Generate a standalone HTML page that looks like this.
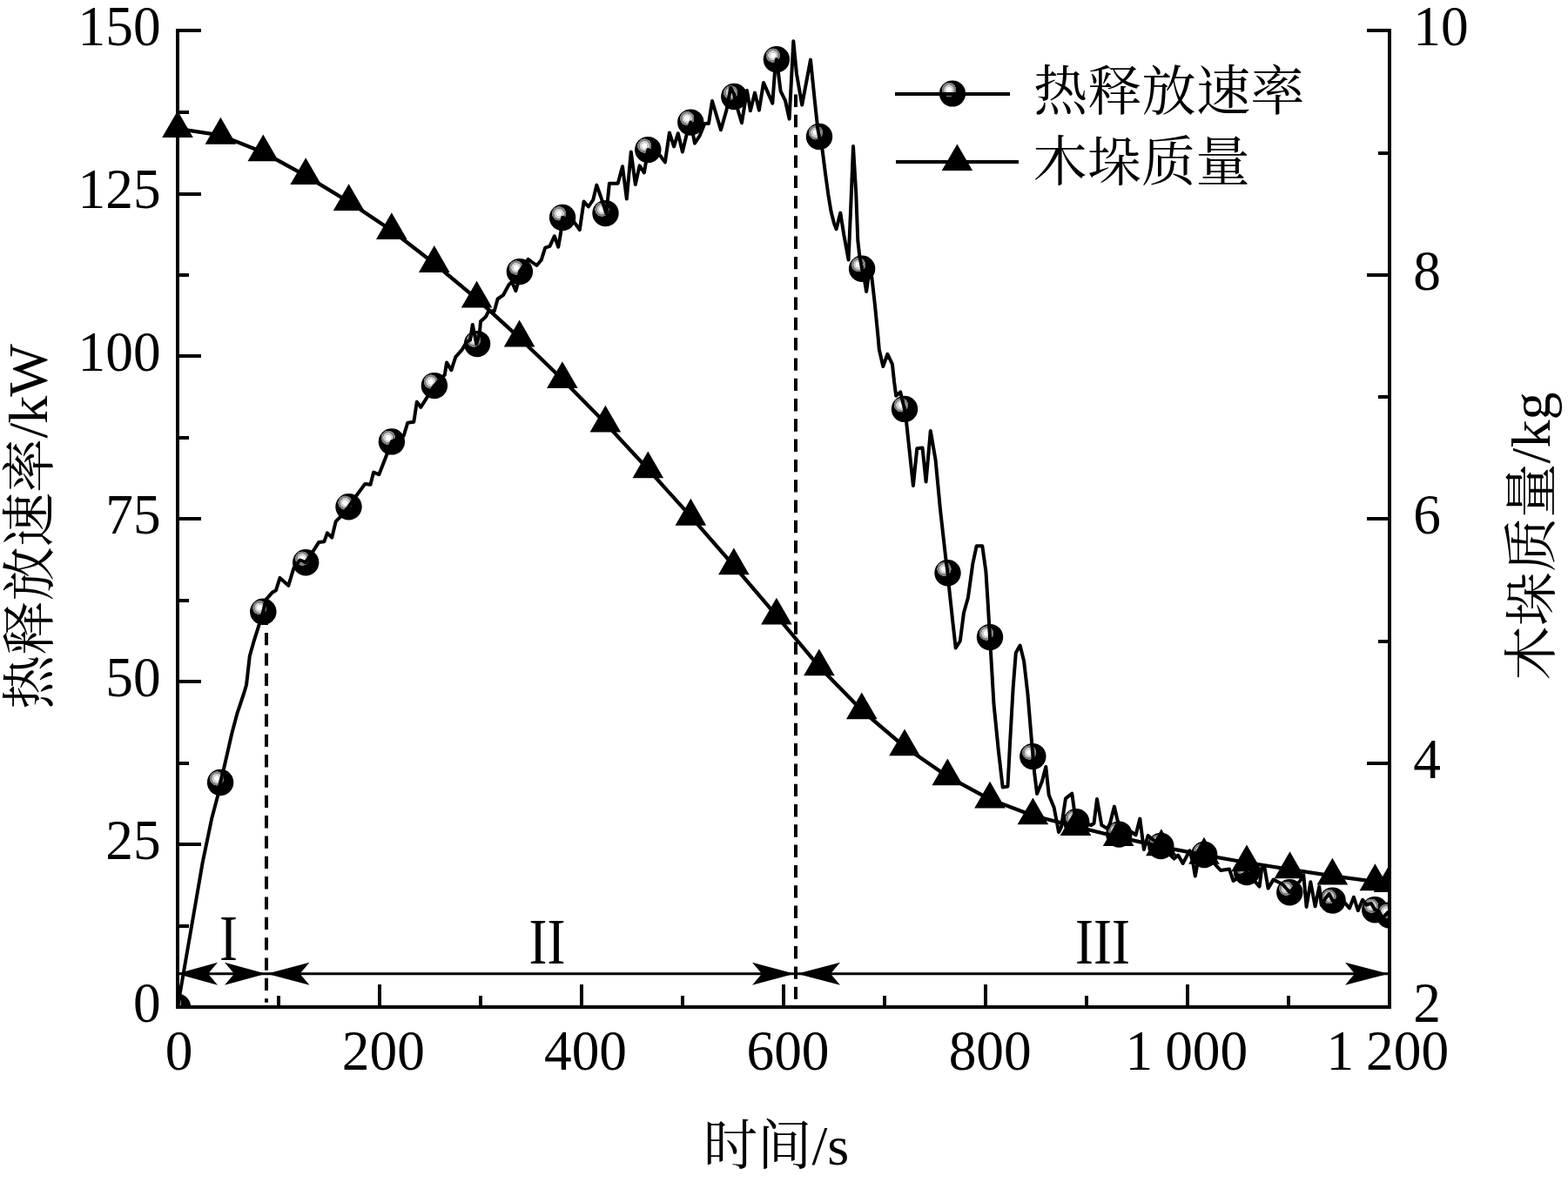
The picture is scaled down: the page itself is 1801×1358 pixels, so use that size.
<!DOCTYPE html>
<html lang="zh-CN"><head><meta charset="utf-8">
<style>
html,body{margin:0;padding:0;background:#fff;}
body{width:1801px;height:1358px;overflow:hidden;}
svg{display:block;}
text{font-family:"Liberation Serif","Noto Serif CJK SC",serif;fill:#000;}
.tk{font-size:65px;word-spacing:-2px;}
.cj{font-size:62.3px;}
.rn{font-size:73.1px;}
.la{font-size:64.2px;}
.sq{letter-spacing:-1px;}
</style></head><body>
<svg width="1801" height="1358" viewBox="0 0 1801 1358">
<defs>
<radialGradient id="bg" gradientUnits="objectBoundingBox" cx="0.367" cy="0.350" r="0.275" fx="0.367" fy="0.350">
<stop offset="0" stop-color="#fff"/><stop offset="0.37" stop-color="#fff"/>
<stop offset="0.39" stop-color="#cdcdcd"/><stop offset="0.66" stop-color="#cdcdcd"/>
<stop offset="0.68" stop-color="#808080"/><stop offset="0.96" stop-color="#808080"/>
<stop offset="0.99" stop-color="#000"/><stop offset="1" stop-color="#000"/>
</radialGradient>
<clipPath id="cl"><rect x="204.0" y="0" width="1392.0" height="1157.0"/></clipPath>
<clipPath id="cr"><rect x="0" y="0" width="1596.0" height="1358"/></clipPath>
</defs>
<rect x="0" y="0" width="1801" height="1358" fill="#fff"/>
<g stroke="#000" stroke-width="4" fill="none">
<line x1="306" y1="703.7" x2="306" y2="1151.8" stroke-dasharray="14.3 9.04"/>
<line x1="914" y1="108.5" x2="914" y2="1151.8" stroke-dasharray="14.4 8.9"/>
</g>
<g clip-path="url(#cl)">
<circle cx="204.0" cy="1157.0" r="15.2" fill="url(#bg)"/>
<circle cx="253.1" cy="899.0" r="15.2" fill="url(#bg)"/>
<circle cx="302.3" cy="702.7" r="15.2" fill="url(#bg)"/>
<circle cx="351.2" cy="646.2" r="15.2" fill="url(#bg)"/>
<circle cx="400.5" cy="582.2" r="15.2" fill="url(#bg)"/>
<circle cx="449.9" cy="507.4" r="15.2" fill="url(#bg)"/>
<circle cx="498.9" cy="443.1" r="15.2" fill="url(#bg)"/>
<circle cx="548.1" cy="395.1" r="15.2" fill="url(#bg)"/>
<circle cx="596.9" cy="312.1" r="15.2" fill="url(#bg)"/>
<circle cx="646.1" cy="249.9" r="15.2" fill="url(#bg)"/>
<circle cx="695.5" cy="245.1" r="15.2" fill="url(#bg)"/>
<circle cx="744.3" cy="172.1" r="15.2" fill="url(#bg)"/>
<circle cx="793.3" cy="140.6" r="15.2" fill="url(#bg)"/>
<circle cx="843.3" cy="111.0" r="15.2" fill="url(#bg)"/>
<circle cx="891.9" cy="68.2" r="15.2" fill="url(#bg)"/>
<circle cx="941.0" cy="156.9" r="15.2" fill="url(#bg)"/>
<circle cx="990.1" cy="308.7" r="15.2" fill="url(#bg)"/>
<circle cx="1039.0" cy="469.9" r="15.2" fill="url(#bg)"/>
<circle cx="1088.5" cy="658.3" r="15.2" fill="url(#bg)"/>
<circle cx="1137.0" cy="732.1" r="15.2" fill="url(#bg)"/>
<circle cx="1186.3" cy="869.1" r="15.2" fill="url(#bg)"/>
<circle cx="1236.2" cy="944.2" r="15.2" fill="url(#bg)"/>
<circle cx="1285.3" cy="958.6" r="15.2" fill="url(#bg)"/>
<circle cx="1333.3" cy="972.0" r="15.2" fill="url(#bg)"/>
<circle cx="1383.2" cy="982.0" r="15.2" fill="url(#bg)"/>
<circle cx="1432.0" cy="1002.0" r="15.2" fill="url(#bg)"/>
<circle cx="1481.3" cy="1025.3" r="15.2" fill="url(#bg)"/>
<circle cx="1530.6" cy="1034.6" r="15.2" fill="url(#bg)"/>
<circle cx="1579.2" cy="1045.3" r="15.2" fill="url(#bg)"/>
<circle cx="1596.0" cy="1051.5" r="15.2" fill="url(#bg)"/>
<polyline points="204.0,1157.0 227.7,1020.0 232.6,991.4 243.3,939.9 250.4,913.3 253.1,899.0 257.5,881.3 266.4,842.2 272.6,819.1 280.0,797.0 283.0,787.0 284.5,774.0 286.8,753.7 291.3,737.7 297.5,718.1 302.3,702.7 305.5,688.8 312.6,680.8 317.0,678.2 321.5,663.9 331.3,672.8 337.5,652.4 344.6,643.5 351.2,646.2 359.9,632.9 366.1,623.1 372.4,622.2 375.9,612.4 381.2,617.7 385.7,599.1 390.1,594.6 400.5,582.2 409.5,569.2 419.3,555.9 425.5,556.8 429.1,542.6 435.3,545.2 443.3,524.8 449.9,507.4 463.7,500.8 468.2,485.7 475.3,484.8 478.8,461.7 483.3,467.9 489.5,458.2 498.9,443.1 510.8,430.6 513.1,416.4 518.3,425.3 523.3,410.2 530.4,402.2 535.7,393.3 540.1,390.6 542.8,372.9 547.2,395.1 550.8,383.5 552.0,369.3 557.9,364.0 561.5,356.9 567.7,357.8 571.6,343.5 578.2,338.8 584.4,327.2 588.0,323.7 592.4,334.3 595.0,325.0 596.9,312.1 606.6,297.9 616.4,305.0 621.7,298.8 626.2,284.6 631.5,282.8 636.8,271.3 641.3,283.7 644.8,263.3 646.1,249.9 659.0,254.4 665.8,264.2 670.6,231.6 675.9,237.5 681.3,229.5 685.3,212.6 690.1,226.0 696.4,245.5 699.9,210.8 709.7,210.8 715.0,191.3 719.8,228.6 724.8,174.4 729.8,212.1 734.6,190.4 739.9,198.4 744.3,172.1 757.7,178.0 763.9,186.4 768.9,152.4 774.1,168.4 778.8,153.2 783.9,174.5 788.7,154.4 793.3,140.6 798.0,164.6 804.0,155.3 809.3,141.9 814.0,141.9 818.0,116.0 828.0,149.3 834.6,126.0 839.3,100.6 843.0,108.0 846.6,123.3 852.0,141.3 858.0,104.0 861.9,127.3 867.0,106.6 871.9,126.6 877.0,94.9 887.3,118.6 889.9,83.3 891.9,68.2 893.9,83.3 896.6,104.6 901.9,115.3 906.6,136.6 911.3,47.3 915.0,85.0 921.2,120.6 931.0,68.6 935.9,116.6 939.2,147.3 941.0,156.9 944.6,172.6 948.0,199.3 951.3,223.3 954.6,243.3 958.0,256.6 960.6,263.3 965.3,244.6 969.3,269.9 974.6,298.6 977.0,243.0 980.0,168.0 983.3,223.0 985.3,276.6 987.3,293.9 990.1,308.7 993.0,322.0 995.1,334.9 997.5,318.0 1001.3,318.0 1004.9,350.0 1008.4,385.5 1009.8,401.5 1014.3,421.0 1019.4,406.8 1024.9,418.4 1027.1,438.8 1029.2,454.8 1034.2,450.4 1039.0,469.9 1041.2,486.0 1048.9,558.0 1053.3,515.3 1059.5,514.4 1063.6,553.5 1068.8,494.9 1074.6,528.6 1080.0,585.5 1086.2,640.6 1088.5,658.3 1090.6,679.7 1094.6,716.7 1097.7,744.5 1102.8,736.5 1107.0,704.0 1111.9,686.8 1117.3,647.7 1121.7,627.2 1128.3,627.2 1132.4,656.6 1134.4,688.0 1137.0,732.1 1138.4,756.0 1141.5,809.0 1146.8,862.0 1151.7,904.5 1157.5,903.5 1160.1,853.0 1163.6,791.0 1166.8,750.0 1171.6,741.6 1176.1,759.5 1180.5,798.0 1185.0,852.0 1186.5,869.1 1188.1,887.5 1191.1,912.0 1196.8,897.9 1201.3,881.0 1204.7,913.3 1210.7,928.0 1216.0,956.0 1219.0,950.0 1224.0,917.3 1231.3,911.7 1234.6,936.0 1236.2,944.2 1253.3,948.0 1256.5,946.0 1260.0,918.0 1265.3,948.0 1272.0,952.0 1275.0,946.0 1279.9,926.6 1283.9,944.0 1285.3,958.6 1299.9,956.0 1304.6,959.3 1309.3,940.6 1313.9,976.0 1318.6,960.0 1333.3,972.0 1348.6,986.6 1353.2,982.6 1358.6,992.0 1366.6,977.3 1370.6,993.3 1372.8,1006.6 1375.2,993.3 1383.2,982.0 1396.0,993.3 1402.0,1000.0 1412.0,998.6 1416.6,1012.0 1432.0,1002.0 1446.6,1018.6 1449.3,997.3 1452.6,997.3 1456.6,1020.6 1462.6,1010.6 1468.0,1013.3 1473.3,1016.0 1481.3,1025.3 1493.3,1012.0 1497.3,1005.3 1500.6,1041.9 1505.3,1013.3 1510.6,1041.3 1515.3,1018.6 1517.9,1039.9 1522.5,1032.0 1526.6,1027.0 1530.6,1034.6 1545.2,1037.8 1550.0,1043.5 1554.9,1030.7 1559.8,1046.2 1565.1,1033.8 1569.5,1039.5 1574.8,1037.8 1579.2,1045.3 1583.6,1046.6 1588.0,1055.0 1593.8,1048.4 1596.0,1051.5" fill="none" stroke="#000" stroke-width="4" stroke-linejoin="round" stroke-linecap="round"/>
</g>
<g clip-path="url(#cr)">
<polyline points="204.0,147.8 253.4,155.4 302.3,175.0 351.2,201.8 400.6,231.8 449.8,264.8 498.8,302.7 547.6,343.3 596.6,388.2 645.9,435.8 695.4,486.3 744.3,539.0 793.4,593.4 842.9,650.0 891.9,707.3 940.9,766.0 989.8,816.0 1039.0,858.0 1088.3,892.0 1137.0,918.3 1186.4,937.0 1235.5,949.6 1284.6,961.7 1333.9,972.9 1383.0,982.4 1432.0,991.0 1481.5,998.9 1530.4,1006.3 1579.4,1012.9 1595.5,1014.7" fill="none" stroke="#000" stroke-width="4.3" stroke-linejoin="round"/>
<polygon points="204.0,127.2 221.8,158.1 186.2,158.1" fill="#000"/>
<polygon points="253.4,134.8 271.2,165.7 235.6,165.7" fill="#000"/>
<polygon points="302.3,154.4 320.1,185.3 284.5,185.3" fill="#000"/>
<polygon points="351.2,181.2 369.0,212.1 333.4,212.1" fill="#000"/>
<polygon points="400.6,211.2 418.4,242.1 382.8,242.1" fill="#000"/>
<polygon points="449.8,244.2 467.6,275.1 432.0,275.1" fill="#000"/>
<polygon points="498.8,282.1 516.6,313.0 481.0,313.0" fill="#000"/>
<polygon points="547.6,322.7 565.4,353.6 529.8,353.6" fill="#000"/>
<polygon points="596.6,367.6 614.4,398.5 578.8,398.5" fill="#000"/>
<polygon points="645.9,415.2 663.7,446.1 628.1,446.1" fill="#000"/>
<polygon points="695.4,465.7 713.2,496.6 677.6,496.6" fill="#000"/>
<polygon points="744.3,518.4 762.1,549.3 726.5,549.3" fill="#000"/>
<polygon points="793.4,572.8 811.2,603.7 775.6,603.7" fill="#000"/>
<polygon points="842.9,629.4 860.7,660.3 825.1,660.3" fill="#000"/>
<polygon points="891.9,686.7 909.7,717.6 874.1,717.6" fill="#000"/>
<polygon points="940.9,745.4 958.7,776.3 923.1,776.3" fill="#000"/>
<polygon points="989.8,795.4 1007.6,826.3 972.0,826.3" fill="#000"/>
<polygon points="1039.0,837.4 1056.8,868.3 1021.2,868.3" fill="#000"/>
<polygon points="1088.3,871.4 1106.1,902.3 1070.5,902.3" fill="#000"/>
<polygon points="1137.0,897.7 1154.8,928.6 1119.2,928.6" fill="#000"/>
<polygon points="1186.4,916.4 1204.2,947.3 1168.6,947.3" fill="#000"/>
<polygon points="1235.5,929.0 1253.3,959.9 1217.7,959.9" fill="#000"/>
<polygon points="1284.6,941.1 1302.4,972.0 1266.8,972.0" fill="#000"/>
<polygon points="1333.9,952.3 1351.7,983.2 1316.1,983.2" fill="#000"/>
<polygon points="1383.0,961.8 1400.8,992.7 1365.2,992.7" fill="#000"/>
<polygon points="1432.0,970.4 1449.8,1001.3 1414.2,1001.3" fill="#000"/>
<polygon points="1481.5,978.3 1499.3,1009.2 1463.7,1009.2" fill="#000"/>
<polygon points="1530.4,985.7 1548.2,1016.6 1512.6,1016.6" fill="#000"/>
<polygon points="1579.4,992.3 1597.2,1023.2 1561.6,1023.2" fill="#000"/>
<polygon points="1595.5,994.1 1613.3,1025.0 1577.7,1025.0" fill="#000"/>
</g>
<g stroke="#000" stroke-width="4" fill="none" stroke-linecap="butt">
<polyline points="204.0,33.0 204.0,1157.0 1596.0,1157.0 1596.0,33.0" stroke-linejoin="miter"/>
<line x1="204.0" y1="1157.0" x2="231.0" y2="1157.0"/>
<line x1="204.0" y1="1064.0" x2="217.0" y2="1064.0"/>
<line x1="204.0" y1="970.0" x2="231.0" y2="970.0"/>
<line x1="204.0" y1="877.0" x2="217.0" y2="877.0"/>
<line x1="204.0" y1="783.0" x2="231.0" y2="783.0"/>
<line x1="204.0" y1="690.0" x2="217.0" y2="690.0"/>
<line x1="204.0" y1="596.0" x2="231.0" y2="596.0"/>
<line x1="204.0" y1="503.0" x2="217.0" y2="503.0"/>
<line x1="204.0" y1="409.0" x2="231.0" y2="409.0"/>
<line x1="204.0" y1="316.0" x2="217.0" y2="316.0"/>
<line x1="204.0" y1="223.0" x2="231.0" y2="223.0"/>
<line x1="204.0" y1="129.0" x2="217.0" y2="129.0"/>
<line x1="204.0" y1="35.0" x2="231.0" y2="35.0"/>
<line x1="1596.0" y1="1157.0" x2="1570.0" y2="1157.0"/>
<line x1="1596.0" y1="1017.0" x2="1583.0" y2="1017.0"/>
<line x1="1596.0" y1="877.0" x2="1570.0" y2="877.0"/>
<line x1="1596.0" y1="737.0" x2="1583.0" y2="737.0"/>
<line x1="1596.0" y1="596.0" x2="1570.0" y2="596.0"/>
<line x1="1596.0" y1="456.0" x2="1583.0" y2="456.0"/>
<line x1="1596.0" y1="316.0" x2="1570.0" y2="316.0"/>
<line x1="1596.0" y1="176.0" x2="1583.0" y2="176.0"/>
<line x1="1596.0" y1="35.0" x2="1570.0" y2="35.0"/>
<line x1="204.0" y1="1157.0" x2="204.0" y2="1131.0"/>
<line x1="320.0" y1="1157.0" x2="320.0" y2="1144.0"/>
<line x1="436.0" y1="1157.0" x2="436.0" y2="1131.0"/>
<line x1="552.0" y1="1157.0" x2="552.0" y2="1144.0"/>
<line x1="668.0" y1="1157.0" x2="668.0" y2="1131.0"/>
<line x1="784.0" y1="1157.0" x2="784.0" y2="1144.0"/>
<line x1="900.0" y1="1157.0" x2="900.0" y2="1131.0"/>
<line x1="1016.0" y1="1157.0" x2="1016.0" y2="1144.0"/>
<line x1="1132.0" y1="1157.0" x2="1132.0" y2="1131.0"/>
<line x1="1248.0" y1="1157.0" x2="1248.0" y2="1144.0"/>
<line x1="1364.0" y1="1157.0" x2="1364.0" y2="1131.0"/>
<line x1="1480.0" y1="1157.0" x2="1480.0" y2="1144.0"/>
<line x1="1596.0" y1="1157.0" x2="1596.0" y2="1131.0"/>
</g>
<line x1="204" y1="1118.7" x2="1596" y2="1118.7" stroke="#000" stroke-width="3"/>
<polygon points="203.0,1118.7 250.0,1105.7 239.0,1118.7 250.0,1131.7" fill="#000"/>
<polygon points="305.5,1118.7 258.0,1105.7 269.0,1118.7 258.0,1131.7" fill="#000"/>
<polygon points="306.5,1118.7 355.5,1105.7 344.5,1118.7 355.5,1131.7" fill="#000"/>
<polygon points="912.5,1118.7 864.0,1105.7 875.0,1118.7 864.0,1131.7" fill="#000"/>
<polygon points="915.5,1118.7 965.0,1105.7 954.0,1118.7 965.0,1131.7" fill="#000"/>
<polygon points="1595.0,1118.7 1545.0,1105.7 1556.0,1118.7 1545.0,1131.7" fill="#000"/>
<text class="tk" transform="translate(184.6,1174.3) scale(0.975,1)" text-anchor="end">0</text>
<text class="tk" transform="translate(184.6,987.3) scale(0.975,1)" text-anchor="end">25</text>
<text class="tk" transform="translate(184.6,800.3) scale(0.975,1)" text-anchor="end">50</text>
<text class="tk" transform="translate(184.6,613.3) scale(0.975,1)" text-anchor="end">75</text>
<text class="tk" transform="translate(184.6,426.3) scale(0.975,1)" text-anchor="end">100</text>
<text class="tk" transform="translate(184.6,239.3) scale(0.975,1)" text-anchor="end">125</text>
<text class="tk" transform="translate(184.6,52.3) scale(0.975,1)" text-anchor="end">150</text>
<text class="tk" transform="translate(1623.3,1174.0) scale(0.975,1)">2</text>
<text class="tk" transform="translate(1623.3,893.5) scale(0.975,1)">4</text>
<text class="tk" transform="translate(1623.3,613.0) scale(0.975,1)">6</text>
<text class="tk" transform="translate(1623.3,332.5) scale(0.975,1)">8</text>
<text class="tk" transform="translate(1623.3,52.0) scale(0.975,1)">10</text>
<text class="tk" transform="translate(205.6,1228.8) scale(0.975,1)" text-anchor="middle">0</text>
<text class="tk" transform="translate(440.4,1228.8) scale(0.975,1)" text-anchor="middle">200</text>
<text class="tk" transform="translate(672.5,1228.8) scale(0.975,1)" text-anchor="middle">400</text>
<text class="tk" transform="translate(905.0,1228.8) scale(0.975,1)" text-anchor="middle">600</text>
<text class="tk" transform="translate(1137.2,1228.8) scale(0.975,1)" text-anchor="middle">800</text>
<text class="tk" transform="translate(1362.9,1228.8) scale(0.975,1)" text-anchor="middle">1 000</text>
<text class="tk" transform="translate(1593.8,1228.8) scale(0.975,1)" text-anchor="middle">1 200</text>
<text class="rn" transform="translate(262.5,1103) scale(0.86,1)" text-anchor="middle">I</text>
<text class="rn" transform="translate(628.5,1107) scale(0.86,1)" text-anchor="middle">II</text>
<text class="rn" transform="translate(1266.5,1107) scale(0.86,1)" text-anchor="middle">III</text>
<circle cx="1094" cy="107.5" r="15.1" fill="url(#bg)"/>
<line x1="1028" y1="108" x2="1160" y2="108" stroke="#000" stroke-width="4"/>
<line x1="1029" y1="186" x2="1170" y2="186" stroke="#000" stroke-width="4"/>
<polygon points="1099.4,165.6 1117.1,196 1081.7,196" fill="#000"/>
<text class="cj" x="1187" y="126.7">热释放速率</text>
<text class="cj" x="1186.5" y="208">木垛质量</text>
<text class="cj" x="891.5" y="1338" text-anchor="middle">时间<tspan class="la">/s</tspan></text>
<text class="cj" transform="translate(55.6,605.6) rotate(-90)" text-anchor="middle">热释放速率<tspan class="la sq" dy="-1.2">/kW</tspan></text>
<text class="cj" transform="translate(1781.2,616) rotate(-90)" text-anchor="middle">木垛质量<tspan class="la" dy="-1.2">/kg</tspan></text>
</svg>
</body></html>
